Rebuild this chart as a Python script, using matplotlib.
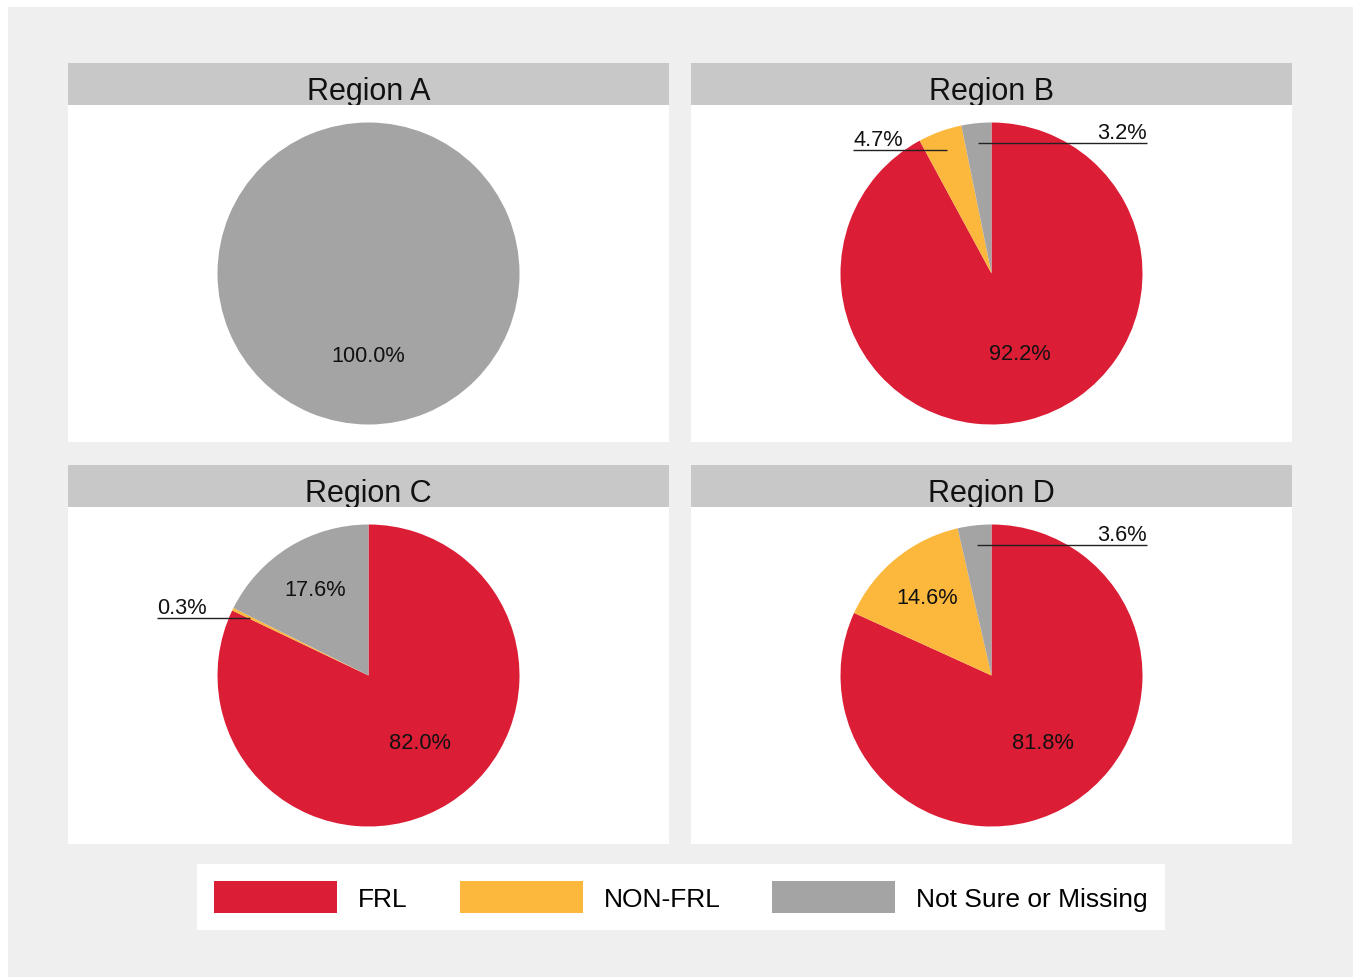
import numpy as np
import matplotlib
matplotlib.use('Agg')
import matplotlib.pyplot as plt
from matplotlib.patches import Rectangle, Patch

plt.rcParams['font.family'] = ['Liberation Sans', 'DejaVu Sans']

# data
regions = ['Region A', 'Region B', 'Region C', 'Region D']
frl = [0.0, 92.2, 82.0, 81.8]
non_frl = [0.0, 4.7, 0.3, 14.6]
missing = [100.0, 3.2, 17.6, 3.6]
categories = ['FRL', 'NON-FRL', 'Not Sure or Missing']
colors = ['#DC1D36', '#FCB83D', '#A4A4A4']

W, H = 1353, 978
fig = plt.figure(figsize=(W / 100, H / 100), dpi=100, facecolor='white')
fig.patches.append(Rectangle((8 / W, 0), 1, 1 - 8 / H, transform=fig.transFigure,
                             facecolor='#EFEFEF', edgecolor='none', zorder=-5))


def px_axes(x, y, w, h):
    return fig.add_axes([x / W, 1 - (y + h) / H, w / W, h / H])


def clean(ax):
    ax.set_frame_on(True)
    ax.set_xticks([]); ax.set_yticks([])
    for s in ax.spines.values():
        s.set_visible(False)


R = 151.0
panel_x = [68, 691, 68, 691]
panel_y = [64, 64, 466, 466]
pw, strip_h, plot_h = 601, 42, 337

for i, name in enumerate(regions):
    x0, y0 = panel_x[i], panel_y[i]
    # strip with title
    sax = px_axes(x0, y0, pw, strip_h)
    sax.set_facecolor('#C8C8C8')
    clean(sax)
    sax.text(0.5, 0.15, name, ha='center', va='baseline', fontsize=22,
             color='#111111', transform=sax.transAxes)

    # pie
    ax = px_axes(x0, y0 + strip_h, pw, plot_h)
    vals = [frl[i], non_frl[i], missing[i]]
    wedges, _ = ax.pie(vals, colors=colors, startangle=90, counterclock=False,
                       radius=1, wedgeprops=dict(linewidth=0))
    ax.set_facecolor('white')
    clean(ax)
    ax.set_xlim(-pw / 2 / R, pw / 2 / R)
    ax.set_ylim(-plot_h / 2 / R, plot_h / 2 / R)

    for wdg, v in zip(wedges, vals):
        if v <= 0:
            continue
        mid = np.deg2rad((wdg.theta1 + wdg.theta2) / 2)
        lab = f'{v:.1f}%'
        if v >= 10:
            if v >= 100:
                d = 0.54
            elif v > 50:
                d = 0.56
                mid += np.deg2rad(5)
            else:
                d = 0.67
            ax.text(d * np.cos(mid), d * np.sin(mid), lab, ha='center', va='center',
                    fontsize=15.7, color='#111111')
        else:
            # small slice: label outside with a leader line
            sx, sy = 0.87 * np.cos(mid), 0.87 * np.sin(mid)
            if np.cos(mid) > -0.15:
                ex, ha = 1.03, 'right'
            else:
                ex, ha = sx - 0.62, 'left'
            ax.plot([sx, ex], [sy, sy], color='#222222', lw=1.0, solid_capstyle='butt')
            ax.text(ex, sy + 0.03, lab, ha=ha, va='baseline', fontsize=15.7, color='#111111')

fs = 19
fpx = fs * 100 / 72
handles = [Patch(facecolor=c, edgecolor='none') for c in colors]
leg = fig.legend(handles, categories, loc='center', ncol=3,
                 bbox_to_anchor=(681 / W, 1 - 898 / H), fontsize=fs,
                 handlelength=123 / fpx, handleheight=38 / fpx, handletextpad=21 / fpx,
                 columnspacing=52 / fpx, borderpad=17 / fpx, frameon=True, fancybox=False,
                 framealpha=1)
leg.get_frame().set_facecolor('white')
leg.get_frame().set_edgecolor('none')

fig.savefig('out.png', dpi=100, facecolor=fig.get_facecolor())
